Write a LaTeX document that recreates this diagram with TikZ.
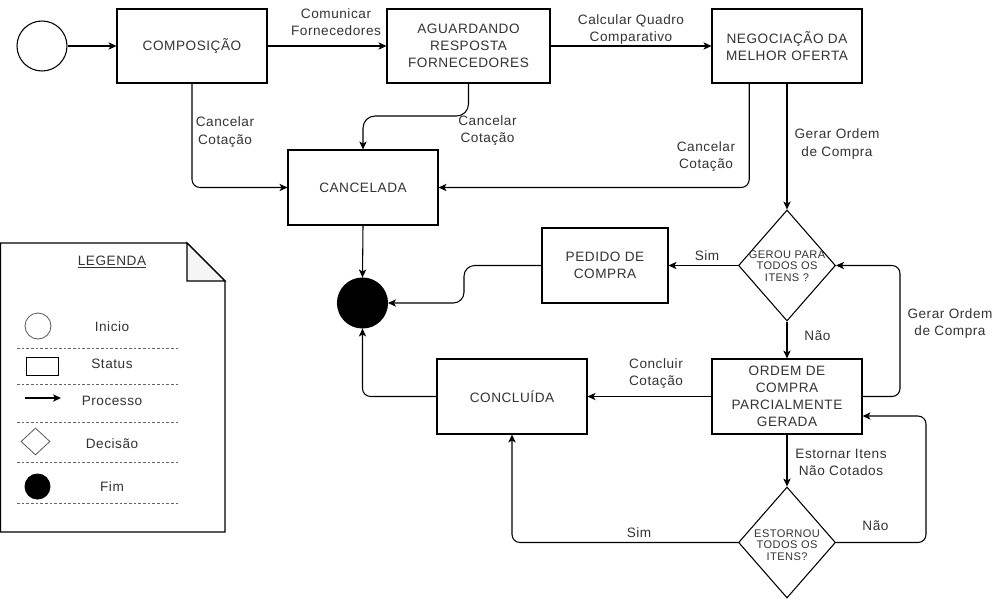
\documentclass[tikz,border=0pt]{standalone}
\usepackage{fontspec}
\setmainfont{Liberation Sans}[LetterSpace=4]
\usetikzlibrary{arrows.meta,shapes.geometric,calc}
\definecolor{txt}{HTML}{333333}
\tikzset{
  px/.style={x=0.75pt,y=-0.75pt},
  box/.style={draw,line width=0.8pt,fill=white,text=txt,align=center,inner sep=1pt,
    font=\fontsize{10.2}{12.9}\selectfont},
  lbl/.style={text=txt,align=center,inner sep=0pt,font=\fontsize{10.2}{12.9}\selectfont},
  ltxt/.style={text=txt,inner sep=0pt,font=\fontsize{10.2}{12.9}\selectfont},
  dia/.style={draw,line width=0.8pt,diamond,inner sep=0pt,minimum width=97*0.75pt,minimum height=111*0.75pt},
  dtxt/.style={text=txt,align=center,inner sep=0pt,font=\fontsize{8.3}{8.7}\selectfont},
  conn/.style={draw,line width=0.8pt,rounded corners=6pt,-{Stealth[length=6pt,width=5.5pt,inset=1.6pt]}},
  sep/.style={dashed,line width=0.6pt,dash pattern=on 2pt off 1.5pt,gray!80!black},
}
\begin{document}
\begin{tikzpicture}[px]
\useasboundingbox (0,0) rectangle (999,600);
% main nodes
\node[draw,circle,line width=0.8pt,minimum size=50*0.75pt,inner sep=0pt] (start) at (42,46) {};
\node[box,minimum width=150*0.75pt,minimum height=74*0.75pt] (comp) at (192,46) {COMPOSIÇÃO};
\node[box,minimum width=163*0.75pt,minimum height=74*0.75pt] (ag) at (468.5,46) {AGUARDANDO\\RESPOSTA\\FORNECEDORES};
\node[box,minimum width=150*0.75pt,minimum height=74*0.75pt] (neg) at (787,46) {NEGOCIAÇÃO DA\\MELHOR OFERTA};
\node[box,minimum width=150*0.75pt,minimum height=75*0.75pt] (canc) at (363,187.5) {CANCELADA};
\node[box,minimum width=126*0.75pt,minimum height=75*0.75pt] (ped) at (605,265.5) {PEDIDO DE\\COMPRA};
\node[box,minimum width=150*0.75pt,minimum height=75*0.75pt] (conc) at (512,396.5) {CONCLUÍDA};
\node[box,minimum width=150*0.75pt,minimum height=75*0.75pt] (ord) at (787,396.5) {ORDEM DE\\COMPRA\\PARCIALMENTE\\GERADA};
\node[dia] (d1) at (787,265.5) {};
\node[dtxt] (d1t) at (787,266) {GEROU PARA\\TODOS OS\\ITENS ?};
\node[dia] (d2) at (787,542.5) {};
\node[dtxt] (d2t) at (787,545) {ESTORNOU\\TODOS OS\\ITENS?};
\node[draw,circle,fill=black,line width=0.8pt,minimum size=50*0.75pt,inner sep=0pt] (fim) at (362.5,303) {};

% helper coordinates
\coordinate (negc) at ($(neg.south west)!0.25!(neg.south east)$);
\coordinate (ordin) at ($(ord.east)+(0,19.5)$);

% connectors
\draw[conn] (start) -- (comp);
\draw[conn] (comp) -- (ag);
\draw[conn] (ag) -- (neg);
\draw[conn] (comp.south) |- (canc.west);
\draw[conn,rounded corners=9pt] (ag.south) -- (468.5,116) -- (363,116) -- (canc.north);
\draw[conn] (negc) |- (canc.east);
\draw[conn] (neg.south) -- (d1.north);
\draw[conn] (d1.west) -- (ped.east);
\draw[conn,rounded corners=8pt] (ped.west) -- (464,265.5) -- (464,303) -- (fim.east);
\draw[conn] (canc.south) -- (fim.north);
\draw[conn] (conc.west) -| (fim.south);
\draw[conn] (d1.south) -- (ord.north);
\draw[conn] (ord.west) -- (conc.east);
\draw[conn] (ord.east) -- (900,396.5) |- (d1.east);
\draw[conn] (ord.south) -- (d2.north);
\draw[conn] (d2.east) -- (926,542.5) |- (ordin);
\draw[conn] (d2.west) -| (conc.south);

% connector labels
\node[lbl] at (336,22.5) {Comunicar\\Fornecedores};
\node[lbl] at (631,29.5) {Calcular Quadro\\Comparativo};
\node[lbl] at (225,132) {Cancelar\\Cotação};
\node[lbl] at (487.5,130.5) {Cancelar\\Cotação};
\node[lbl] at (706,156.5) {Cancelar\\Cotação};
\node[lbl] at (837,144) {Gerar Ordem\\de Compra};
\node[lbl] at (707,256) {Sim};
\node[lbl] at (817.5,336) {Não};
\node[lbl] at (950,323.5) {Gerar Ordem\\de Compra};
\node[lbl] at (656,373.5) {Concluir\\Cotação};
\node[lbl] at (841,462) {Estornar Itens\\Não Cotados};
\node[lbl] at (875.5,526) {Não};
\node[lbl] at (639,532.5) {Sim};

% legend
\draw[line width=0.8pt,fill=white] (0.5,243) -- (187,243) -- (225,281) -- (225,532) -- (0.5,532) -- cycle;
\draw[line width=0.8pt,fill=gray!8] (187,243) -- (187,281) -- (225,281) -- cycle;
\node[ltxt] (legt) at (112,262) {\underline{LEGENDA}};
\node[draw,circle,line width=0.6pt,gray!70!black,minimum size=26*0.75pt,inner sep=0pt] (lc) at (38,326) {};
\node[ltxt] at (112,327) {Inicio};
\draw[sep] (17,348) -- (178,348);
\node[draw,line width=0.6pt,minimum width=32*0.75pt,minimum height=18*0.75pt,inner sep=0pt] (lr) at (42,366) {};
\node[ltxt] at (112,364) {Status};
\draw[sep] (17,384) -- (178,384);
\coordinate (la1) at (25,398);
\coordinate (la2) at (61,398);
\draw[conn] (la1) -- (la2);
\node[ltxt] at (112,401) {Processo};
\draw[sep] (17,422) -- (178,422);
\node[draw,diamond,line width=0.6pt,gray!70!black,inner sep=0pt,minimum width=29*0.75pt,minimum height=27*0.75pt] (ld) at (35.5,441.5) {};
\node[ltxt] at (112,444) {Decisão};
\draw[sep] (17,462) -- (178,462);
\node[circle,fill=black,minimum size=26*0.75pt,inner sep=0pt] (lf) at (37.5,486.5) {};
\node[ltxt] at (112,487) {Fim};
\draw[sep] (17,503) -- (178,503);
\end{tikzpicture}
\end{document}
